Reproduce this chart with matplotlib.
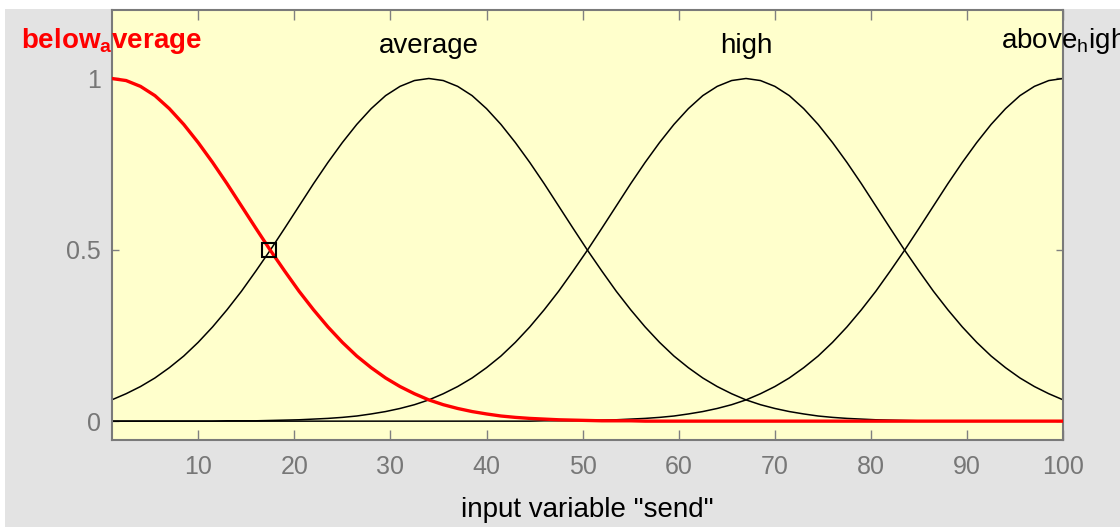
import numpy as np
import matplotlib
matplotlib.use('Agg')
import matplotlib.pyplot as plt
from matplotlib.patches import Rectangle

plt.rcParams['font.family'] = ['Liberation Sans', 'DejaVu Sans']
plt.rcParams['mathtext.fontset'] = 'custom'
plt.rcParams['mathtext.rm'] = 'Liberation Sans'
plt.rcParams['mathtext.bf'] = 'Liberation Sans:bold'

# input variable "send", sampled every 1.5 units
x = [1, 2.5, 4, 5.5, 7, 8.5, 10, 11.5, 13, 14.5, 16, 17.5, 19, 20.5, 22,
     23.5, 25, 26.5, 28, 29.5, 31, 32.5, 34, 35.5, 37, 38.5, 40, 41.5, 43,
     44.5, 46, 47.5, 49, 50.5, 52, 53.5, 55, 56.5, 58, 59.5, 61, 62.5, 64,
     65.5, 67, 68.5, 70, 71.5, 73, 74.5, 76, 77.5, 79, 80.5, 82, 83.5, 85,
     86.5, 88, 89.5, 91, 92.5, 94, 95.5, 97, 98.5, 100]

# membership values
below_average = [1, 0.994, 0.977, 0.950, 0.912, 0.866, 0.813, 0.755, 0.693,
                 0.628, 0.563, 0.499, 0.438, 0.379, 0.325, 0.275, 0.230,
                 0.190, 0.156, 0.126, 0.101, 0.080, 0.062, 0.048, 0.037,
                 0.028, 0.021, 0.015, 0.011, 0.008, 0.006, 0.004, 0.003,
                 0.002, 0.001, 0.001, 0.001,
                 0, 0, 0, 0, 0, 0, 0, 0, 0, 0, 0, 0, 0, 0, 0, 0, 0, 0, 0,
                 0, 0, 0, 0, 0, 0, 0, 0, 0, 0, 0]
average = [0.062, 0.080, 0.101, 0.126, 0.156, 0.190, 0.230, 0.275, 0.325,
           0.379, 0.438, 0.499, 0.563, 0.628, 0.693, 0.755, 0.813, 0.866,
           0.912, 0.950, 0.977, 0.994, 1,
           0.994, 0.977, 0.950, 0.912, 0.866, 0.813, 0.755, 0.693, 0.628,
           0.563, 0.499, 0.438, 0.379, 0.325, 0.275, 0.230, 0.190, 0.156,
           0.126, 0.101, 0.080, 0.062, 0.048, 0.037, 0.028, 0.021, 0.015,
           0.011, 0.008, 0.006, 0.004, 0.003, 0.002, 0.001, 0.001, 0.001,
           0, 0, 0, 0, 0, 0, 0, 0]
high = [0, 0, 0, 0, 0, 0, 0, 0,
        0.001, 0.001, 0.001, 0.002, 0.003, 0.004, 0.006, 0.008, 0.011,
        0.015, 0.021, 0.028, 0.037, 0.048, 0.062, 0.080, 0.101, 0.126,
        0.156, 0.190, 0.230, 0.275, 0.325, 0.379, 0.438, 0.499, 0.563,
        0.628, 0.693, 0.755, 0.813, 0.866, 0.912, 0.950, 0.977, 0.994, 1,
        0.994, 0.977, 0.950, 0.912, 0.866, 0.813, 0.755, 0.693, 0.628,
        0.563, 0.499, 0.438, 0.379, 0.325, 0.275, 0.230, 0.190, 0.156,
        0.126, 0.101, 0.080, 0.062]
above_high = [0, 0, 0, 0, 0, 0, 0, 0, 0, 0, 0, 0, 0, 0, 0, 0, 0, 0, 0, 0,
              0, 0, 0, 0, 0, 0, 0, 0, 0, 0,
              0.001, 0.001, 0.001, 0.002, 0.003, 0.004, 0.006, 0.008, 0.011,
              0.015, 0.021, 0.028, 0.037, 0.048, 0.062, 0.080, 0.101, 0.126,
              0.156, 0.190, 0.230, 0.275, 0.325, 0.379, 0.438, 0.499, 0.563,
              0.628, 0.693, 0.755, 0.813, 0.866, 0.912, 0.950, 0.977, 0.994,
              1]

mf_names = [r'below$_\mathbf{a}$verage', 'average', 'high', r'above$_\mathregular{h}$igh']
mf_peaks = [1, 34, 67, 100]
mf_label_y = [1.09, 1.075, 1.075, 1.09]
cross_x, cross_y = 17.4, 0.5

xticks = [10, 20, 30, 40, 50, 60, 70, 80, 90, 100]
yticks = [0, 0.5, 1]
yticklabels = ['0', '0.5', '1']

fig = plt.figure(figsize=(11.2, 5.27), dpi=100, facecolor='white')
fig.patches.append(Rectangle((5 / 1120, 0), 1, 1 - 9 / 527, transform=fig.transFigure,
                             facecolor='#e3e3e3', edgecolor='none', zorder=-1))
ax = fig.add_axes([0.0997, 0.1651, 0.8496, 0.816])
ax.set_facecolor('#ffffcc')

for mf in [below_average, average, high, above_high]:
    ax.plot(x, mf, color='black', lw=1.1, zorder=2)
ax.plot(x, below_average, color='red', lw=2.4, zorder=3)
ax.plot([cross_x], [cross_y], marker='s', ms=9.5, mfc='none', mec='black', mew=1.5, zorder=4)

for name, pk, ly in zip(mf_names, mf_peaks, mf_label_y):
    if name.startswith('below'):
        ax.text(pk, ly, name, color='red', fontweight='bold', fontsize=20,
                ha='center', va='baseline', clip_on=False)
    else:
        ax.text(pk, ly, name, color='black', fontsize=20,
                ha='center', va='baseline', clip_on=False)

ax.set_xlim(1, 100)
ax.set_ylim(-0.055, 1.2)
ax.set_xticks(xticks)
ax.set_yticks(yticks)
ax.set_yticklabels(yticklabels)
ax.tick_params(axis='x', direction='in', length=7, width=1, color='#808080',
               labelcolor='#777777', labelsize=18, pad=11, top=True)
ax.tick_params(axis='y', direction='in', length=5, width=1, color='#808080',
               labelcolor='#777777', labelsize=18, pad=8, right=True)
for s in ax.spines.values():
    s.set_color('#7a7a7a')
    s.set_linewidth(1.5)

ax.set_xlabel('input variable "send"', fontsize=20, color='black', labelpad=13)

fig.savefig('out.png', dpi=100, facecolor=fig.get_facecolor())
